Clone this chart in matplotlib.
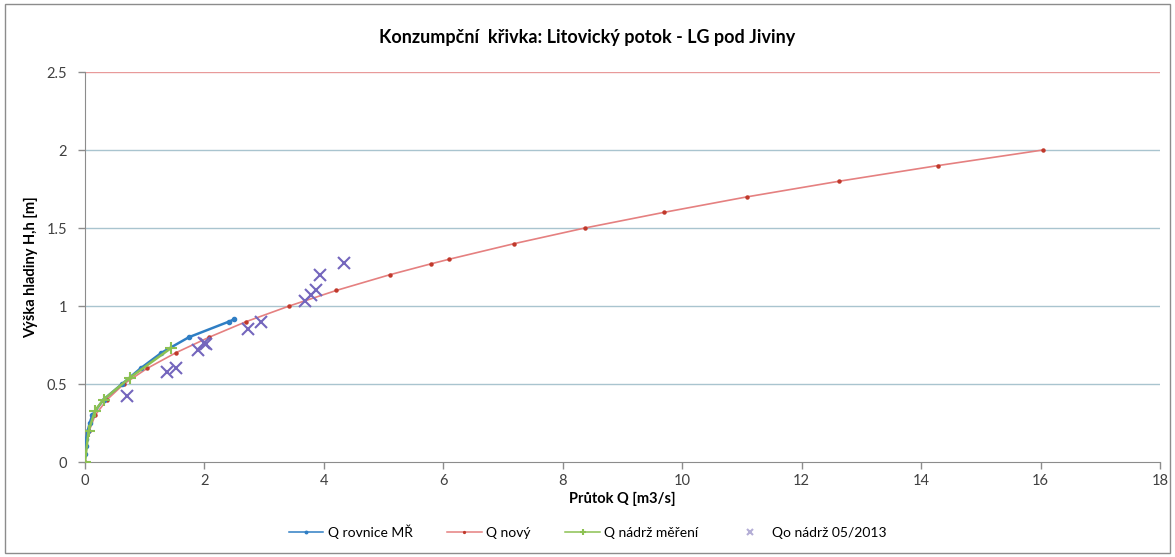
import matplotlib
matplotlib.use("Agg")
import matplotlib.pyplot as plt
from matplotlib.patches import Rectangle

plt.rcParams['font.family'] = ['Lato', 'DejaVu Sans']

# Q rovnice MŘ
q_rovnice = [0.0, 0.01, 0.02, 0.045, 0.08, 0.12, 0.31, 0.62, 0.93, 1.28, 1.74, 2.41, 2.50]
h_rovnice = [0.05, 0.10, 0.15, 0.20, 0.25, 0.30, 0.40, 0.50, 0.60, 0.70, 0.80, 0.90, 0.915]

# Q nový
q_novy = [0.0, 0.02, 0.07, 0.17, 0.37, 0.65, 1.04, 1.52, 2.08, 2.70, 3.42, 4.21, 5.10,
          5.79, 6.10, 7.19, 8.37, 9.69, 11.09, 12.63, 14.28, 16.04]
h_novy = [0.0, 0.10, 0.20, 0.30, 0.40, 0.50, 0.60, 0.70, 0.80, 0.90, 1.00, 1.10, 1.20,
          1.27, 1.30, 1.40, 1.50, 1.60, 1.70, 1.80, 1.90, 2.00]

# Q nádrž měření
q_nadrz = [0.0, 0.06, 0.17, 0.31, 0.75, 1.44]
h_nadrz = [0.0, 0.20, 0.33, 0.40, 0.54, 0.73]

# Qo nádrž 05/2013
q_obs = [0.71, 1.38, 1.52, 1.89, 1.99, 2.03, 2.73, 2.94, 3.69, 3.79, 3.87, 3.93, 4.34]
h_obs = [0.42, 0.58, 0.60, 0.72, 0.765, 0.755, 0.85, 0.90, 1.035, 1.07, 1.10, 1.20, 1.275]

x_ticks = [0, 2, 4, 6, 8, 10, 12, 14, 16, 18]
y_ticks = [0, 0.5, 1, 1.5, 2, 2.5]
y_labels = ['0', '0.5', '1', '1.5', '2', '2.5']

fig = plt.figure(figsize=(11.75, 5.57), dpi=100)
ax = fig.add_axes([85/1175, 1-462/557, (1160-85)/1175, (462-72)/557])

grid_c = '#a9c4cf'
for y in y_ticks[1:-1]:
    ax.axhline(y, color=grid_c, lw=1.0, zorder=0)
ax.axhline(2.5, color='#e89a9a', lw=1.0, zorder=0)

ax.plot(q_novy, h_novy, color='#e58080', lw=1.2, marker='o', ms=2.2,
        mfc='#c0392b', mec='#c0392b', label='Q nový', zorder=3)
ax.plot(q_rovnice, h_rovnice, color='#2f7ec4', lw=1.8, marker='o', ms=3,
        mfc='#2f7ec4', mec='#2f7ec4', label='Q rovnice MŘ', zorder=4)
ax.plot(q_nadrz, h_nadrz, color='#8cc152', lw=1.8, marker='+', ms=8, mew=1.5,
        label='Q nádrž měření', zorder=5)
ax.plot(q_obs, h_obs, ls='none', marker='x', ms=8, mew=1.5, color='#7466bd',
        label='Qo nádrž 05/2013', zorder=6)

ax.set_xlim(0, 18)
ax.set_ylim(0, 2.5)
ax.set_xticks(x_ticks)
ax.set_xticklabels([str(t) for t in x_ticks])
ax.set_yticks(y_ticks)
ax.set_yticklabels(y_labels)
ax.tick_params(axis='both', direction='out', length=5, color='#8c8c8c',
               labelsize=10.5, labelcolor='#404040', width=1)
ax.tick_params(axis='y', pad=8)
for s in ['top', 'right']:
    ax.spines[s].set_visible(False)
for s in ['left', 'bottom']:
    ax.spines[s].set_color('#8c8c8c')

ax.set_xlabel('Průtok Q [m3/s]', fontsize=10.5, fontweight='bold', labelpad=3)
ax.set_ylabel('Výška hladiny H,h [m]', fontsize=10.5, fontweight='bold', labelpad=6)

fig.text(0.5, 1-38/557, 'Konzumpční  křivka: Litovický potok - LG pod Jiviny',
         ha='center', va='center', fontsize=13, fontweight='bold')

handles, labels = ax.get_legend_handles_labels()
order = [1, 0, 2, 3]
leg = fig.legend([handles[i] for i in order], [labels[i] for i in order],
                 loc='center', bbox_to_anchor=(0.5, 1-532/557), ncol=4, frameon=False,
                 fontsize=10, handlelength=2.5, columnspacing=2.5, handletextpad=0.3,
                 markerscale=0.6)
for ln in leg.get_lines():
    ln.set_linewidth(1.1)
leg.get_lines()[3].set_color('#b4aed6')

fig.patches.append(Rectangle((5/1175, 4/557), 1165/1175, 549/557, transform=fig.transFigure,
                             fill=False, edgecolor='#8c8c8c', lw=1.0))

fig.savefig('out.png', dpi=100, facecolor='white')
